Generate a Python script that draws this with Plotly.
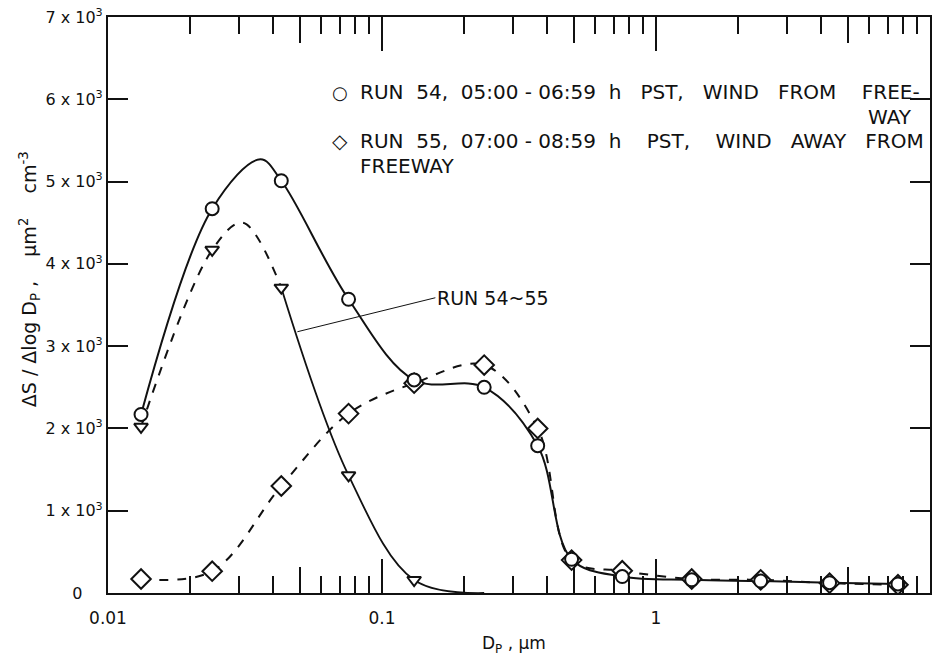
import math
import plotly.graph_objects as go

# ---- data ----
# measured size channels (um) and values (um^2 cm^-3)
dp_um = [0.0132, 0.0240, 0.0429, 0.0755, 0.131, 0.236, 0.370, 0.492, 0.753, 1.35, 2.41, 4.30, 7.64]
run54 = [2170, 4670, 5010, 3570, 2590, 2500, 1790, 410, 200, 160, 145, 125, 110]
run55 = [170, 265, 1300, 2180, 2550, 2770, 2000, 400, 270, 170, 160, 120, 100]
diff_dp = [0.0132, 0.0240, 0.0429, 0.0755, 0.131, 0.236]
diff_54_55 = [2020, 4170, 3710, 1430, 158, 0]

# peaks of the hand-drawn curves
run54_peak_dp, run54_peak = 0.036, 5270
diff_peak_dp, diff_peak = 0.031, 4500

# leader-line target of the "RUN 54~55" label (on the difference curve)
label_dp, label_val = 0.0491, 3175

S = "\u00a0"  # non-collapsing space
y_tickvals = [0, 1000, 2000, 3000, 4000, 5000, 6000, 7000]
y_ticktext = ["0" + S * 4, "1 x 10<sup>3</sup>", "2 x 10<sup>3</sup>", "3 x 10<sup>3</sup>",
              "4 x 10<sup>3</sup>", "5 x 10<sup>3</sup>", "6 x 10<sup>3</sup>", "7 x 10<sup>3</sup>"]
x_tickvals = [0.01, 0.1, 1, 10]
x_ticktext = ["0.01", "0.1", "1", "10"]
half_decades = [0.05, 0.5, 5]

legend54 = ["RUN", "54,", "05:00 - 06:59", "h", "PST,", "WIND", "FROM", "FREE-"]
legend55 = ["RUN", "55,", "07:00 - 08:59", "h", "PST,", "WIND", "AWAY", "FROM"]

FONT = "DejaVu Sans"
BLACK = "#111111"


def with_peak(xs, ys, px, py):
    pts = sorted(list(zip(xs, ys)) + [(px, py)])
    return [p[0] for p in pts], [p[1] for p in pts]


def spaced(words, gaps):
    out = words[0]
    for w, g in zip(words[1:], gaps):
        out += S * g + w
    return out


fig = go.Figure()

# Run 55 (diamonds, dashed)
fig.add_trace(go.Scatter(
    x=dp_um, y=run55, mode="lines",
    line=dict(color=BLACK, width=2, dash="dash", shape="spline", smoothing=1.0),
    showlegend=False))

# Run 54 (circles, solid)
x54, y54 = with_peak(dp_um, run54, run54_peak_dp, run54_peak)
fig.add_trace(go.Scatter(
    x=x54, y=y54, mode="lines",
    line=dict(color=BLACK, width=2, shape="spline", smoothing=1.0),
    showlegend=False))

# Run 54-55 difference: dashed rising part, solid falling part
xd, yd = with_peak(diff_dp, diff_54_55, diff_peak_dp, diff_peak)
fig.add_trace(go.Scatter(
    x=xd[:4], y=yd[:4], mode="lines",
    line=dict(color=BLACK, width=2, dash="dash", shape="spline", smoothing=1.0),
    showlegend=False))
fig.add_trace(go.Scatter(
    x=xd[3:], y=yd[3:], mode="lines",
    line=dict(color=BLACK, width=1.8, shape="spline", smoothing=1.0),
    showlegend=False))

# markers on top
fig.add_trace(go.Scatter(
    x=dp_um, y=run55, mode="markers",
    marker=dict(symbol="diamond", size=15, color="white", line=dict(color=BLACK, width=2)),
    showlegend=False))
fig.add_trace(go.Scatter(
    x=dp_um, y=run54, mode="markers",
    marker=dict(symbol="circle", size=13, color="white", line=dict(color=BLACK, width=2)),
    showlegend=False))
fig.add_trace(go.Scatter(
    x=diff_dp[:5], y=diff_54_55[:5], mode="markers",
    marker=dict(symbol="triangle-down", size=12, color="white", line=dict(color=BLACK, width=2)),
    showlegend=False))

axis_common = dict(showline=True, linecolor=BLACK, linewidth=2.2, mirror="ticks",
                   ticks="inside", tickcolor=BLACK, tickwidth=1.5, showgrid=False,
                   zeroline=False)

fig.update_layout(
    width=937, height=661,
    margin=dict(l=108, r=5, t=17, b=68),
    paper_bgcolor="white", plot_bgcolor="white",
    font=dict(family=FONT, color=BLACK),
    xaxis=dict(type="log", range=[-2, 1], tickvals=x_tickvals, ticktext=x_ticktext,
               ticklen=34, ticklabelstandoff=8,
               tickfont=dict(family=FONT, size=17, color=BLACK),
               minor=dict(ticks="inside", ticklen=17, tickwidth=1.5, tickcolor=BLACK, dtick="D1"),
               **axis_common),
    xaxis2=dict(type="log", range=[-2, 1], overlaying="x", anchor="y", side="bottom",
                tickvals=half_decades, showticklabels=False, ticklen=26,
                showline=False, mirror="ticks", ticks="inside", tickcolor=BLACK,
                tickwidth=1.5, showgrid=False, zeroline=False),
    yaxis=dict(range=[0, 7000], tickvals=y_tickvals, ticktext=y_ticktext,
               ticklen=20, tickfont=dict(family=FONT, size=16, color=BLACK),
               **axis_common),
)

# invisible trace so xaxis2 renders
fig.add_trace(go.Scatter(x=[half_decades[0]], y=[0], xaxis="x2", mode="markers",
                         marker=dict(opacity=0), showlegend=False, hoverinfo="skip"))

TXT = dict(family=FONT, size=20, color=BLACK)
C = dict(xref="paper", yref="paper", showarrow=False, yanchor="middle")
ytitle = "ΔS / Δlog D<sub>P</sub> ," + S * 4 + "μm<sup>2</sup>" + S * 4 + "cm<sup>-3</sup>"
annots = [
    dict(text=ytitle, x=-0.096, y=0.545, textangle=-90, xanchor="center",
         font=dict(family=FONT, size=19, color=BLACK), **C),
    dict(text="D<sub>P</sub> , μm", x=0.494, y=-0.09, xanchor="center",
         font=dict(family=FONT, size=17, color=BLACK), **C),
    dict(text="○", x=0.2824, y=0.8695, xanchor="center",
         font=dict(family=FONT, size=18, color=BLACK), **C),
    dict(text="◇", x=0.2824, y=0.785, xanchor="center",
         font=dict(family=FONT, size=20, color=BLACK), **C),
    dict(text=spaced(legend54, [2, 2, 2, 3, 3, 3, 4]), x=0.3046, y=0.8695,
         xanchor="left", font=TXT, **C),
    dict(text="WAY", x=0.981, y=0.826, xanchor="right", font=TXT, **C),
    dict(text=spaced(legend55, [2, 2, 2, 4, 4, 3, 3]), x=0.3046, y=0.785,
         xanchor="left", font=TXT, **C),
    dict(text="FREEWAY", x=0.3046, y=0.741, xanchor="left", font=TXT, **C),
    dict(text="RUN 54~55", x=math.log10(label_dp), y=label_val, xref="x", yref="y",
         ax=138, ay=-34, xanchor="left", yanchor="middle", showarrow=True, arrowhead=0,
         arrowwidth=1, arrowcolor=BLACK, font=dict(family=FONT, size=19, color=BLACK)),
]
fig.update_layout(annotations=annots)

fig.write_html("out.html")
